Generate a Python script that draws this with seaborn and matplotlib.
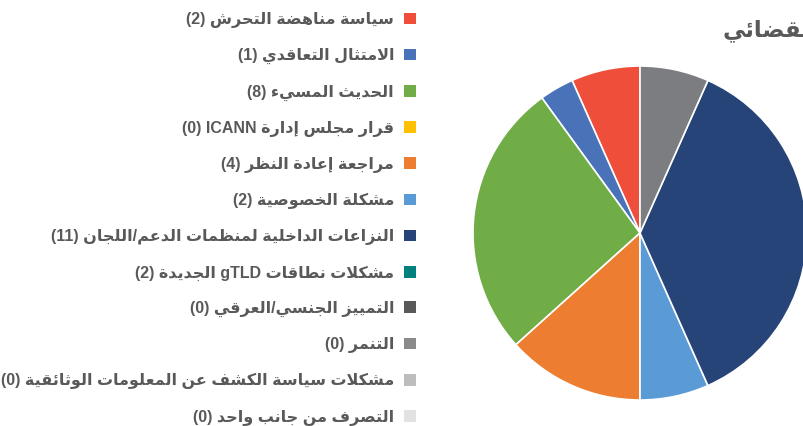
import re
import matplotlib
matplotlib.use("Agg")
import matplotlib.pyplot as plt
from matplotlib.patches import Patch
import seaborn as sns

# data
categories = [
    "سياسة مناهضة التحرش",
    "الامتثال التعاقدي",
    "الحديث المسيء",
    "قرار مجلس إدارة ICANN",
    "مراجعة إعادة النظر",
    "مشكلة الخصوصية",
    "النزاعات الداخلية لمنظمات الدعم/اللجان",
    "مشكلات نطاقات gTLD الجديدة",
    "التمييز الجنسي/العرقي",
    "التنمر",
    "مشكلات سياسة الكشف عن المعلومات الوثائقية",
    "التصرف من جانب واحد",
]
counts = [2, 1, 8, 0, 4, 2, 11, 2, 0, 0, 0, 0]
legend_colors = ["#EF4F3A", "#4A72B8", "#71AD46", "#FFC000", "#ED7D31", "#5B9BD5",
                 "#264478", "#00807E", "#595959", "#8A8A8A", "#BDBDBD", "#E2E2E2"]
# the gTLD slice is drawn grey in the source chart
slice_colors = ["#EF4F3A", "#4A72B8", "#71AD46", "#FFC000", "#ED7D31", "#5B9BD5",
                "#264478", "#7C7D80", "#595959", "#8A8A8A", "#BDBDBD", "#E2E2E2"]
title_tail = "القضائي"

# --- minimal arabic shaping (matplotlib has no complex text layout) ---
DUAL = {'ئ': 0xFE89, 'ب': 0xFE8F, 'ت': 0xFE95, 'ث': 0xFE99, 'ج': 0xFE9D, 'ح': 0xFEA1,
        'خ': 0xFEA5, 'س': 0xFEB1, 'ش': 0xFEB5, 'ص': 0xFEB9, 'ض': 0xFEBD, 'ط': 0xFEC1,
        'ظ': 0xFEC5, 'ع': 0xFEC9, 'غ': 0xFECD, 'ف': 0xFED1, 'ق': 0xFED5, 'ك': 0xFED9,
        'ل': 0xFEDD, 'م': 0xFEE1, 'ن': 0xFEE5, 'ه': 0xFEE9, 'ي': 0xFEF1}
RIGHT = {'آ': 0xFE81, 'أ': 0xFE83, 'ؤ': 0xFE85, 'إ': 0xFE87, 'ا': 0xFE8D, 'ة': 0xFE93,
         'د': 0xFEA9, 'ذ': 0xFEAB, 'ر': 0xFEAD, 'ز': 0xFEAF, 'و': 0xFEED, 'ى': 0xFEEF}
LAMALEF = {'ا': 0xFEFB, 'أ': 0xFEF7, 'إ': 0xFEF9, 'آ': 0xFEF5}


def shape(s):
    toks = []
    i = 0
    while i < len(s):
        c = s[i]
        if c == 'ل' and i + 1 < len(s) and s[i + 1] in LAMALEF:
            toks.append((c, LAMALEF[s[i + 1]], 'R'))
            i += 2
            continue
        if c in DUAL:
            toks.append((c, DUAL[c], 'D'))
        elif c in RIGHT:
            toks.append((c, RIGHT[c], 'R'))
        else:
            toks.append((c, None, 'U'))
        i += 1
    out = []
    for k, (c, base, t) in enumerate(toks):
        if t == 'U':
            out.append(c)
            continue
        prev = k > 0 and toks[k - 1][2] == 'D'
        nxt = t == 'D' and k + 1 < len(toks) and toks[k + 1][2] in ('D', 'R')
        if prev and nxt:
            off = 3
        elif nxt:
            off = 2
        elif prev:
            off = 1
        else:
            off = 0
        out.append(chr(base + off))
    return ''.join(out)


def rtl(s):
    v = shape(s)[::-1]
    v = re.sub(r'[A-Za-z0-9]+', lambda m: m.group(0)[::-1], v)
    return v.translate(str.maketrans('()', ')('))


sns.set_theme(style="white")
plt.rcParams['font.family'] = ['Liberation Sans', 'DejaVu Sans']

W, H = 804, 426
fig = plt.figure(figsize=(W / 100, H / 100), dpi=100)

# pie centre ~ (640, 233) px, radius ~167 px
cx, cy, r = 640, 233, 167
ax = fig.add_axes([(cx - r) / W, (H - cy - r) / H, 2 * r / W, 2 * r / H])
vals = [v for v in counts if v > 0]
cols = [c for v, c in zip(counts, slice_colors) if v > 0]
ax.pie(vals, colors=cols, startangle=90, counterclock=True,
       wedgeprops=dict(edgecolor="white", linewidth=1.2))
ax.set_xlim(-1, 1)
ax.set_ylim(-1, 1)
ax.set_aspect("equal")
ax.set_axis_off()

fig.text(723 / W, 1 - 30 / H, rtl(title_tail), ha="left", va="center",
         fontsize=16.5, fontweight="bold", color="#595959")

handles = [Patch(facecolor=c, edgecolor="none") for c in legend_colors]
labels = [rtl(f"{n} ({v})") for n, v in zip(categories, counts)]
fs = 11.5
fig.legend(handles, labels, loc="upper right", bbox_to_anchor=(416 / W, 1 - 12 / H),
           frameon=False, markerfirst=False, borderpad=0, borderaxespad=0,
           handlelength=0.75, handleheight=0.75, handletextpad=0.62,
           labelspacing=1.26, labelcolor="#595959",
           prop=dict(size=fs, weight="bold"))

fig.savefig("out.png", dpi=100)
